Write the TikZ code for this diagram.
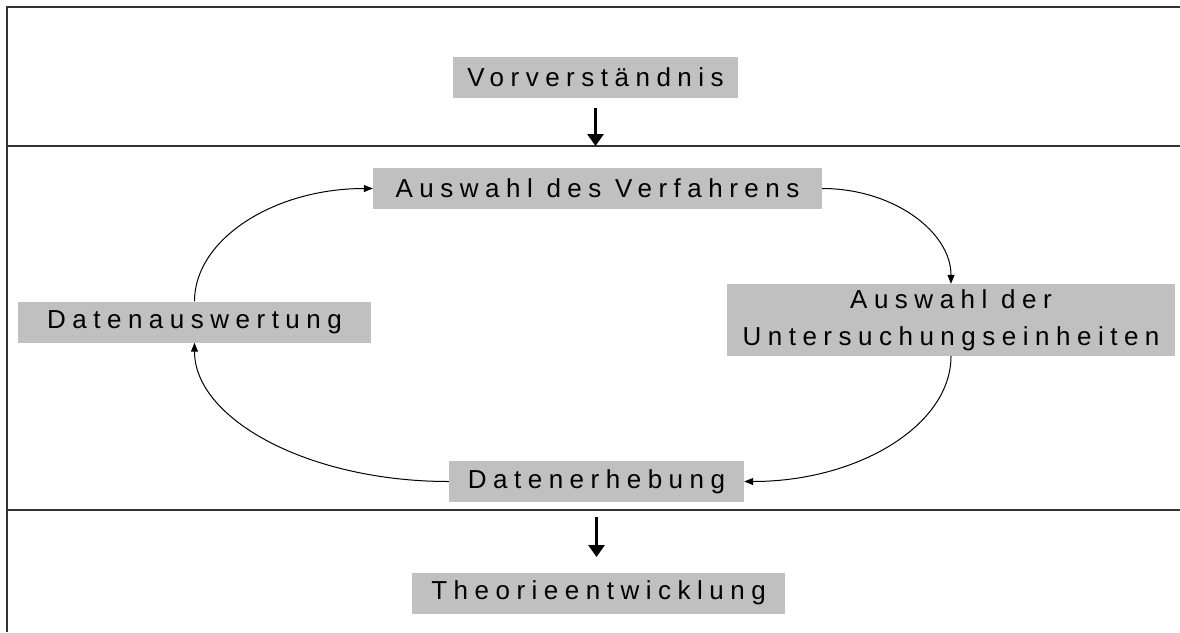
\documentclass[tikz,border=0pt]{standalone}
\usepackage{fontspec}
\setmainfont{Liberation Sans}
\newfontfamily\spacedfont{Liberation Sans}[LetterSpace=25]
\usetikzlibrary{arrows.meta}
\definecolor{boxgray}{RGB}{192,192,192}

\begin{document}
\begin{tikzpicture}[
    x=1pt, y=-1pt,
    box/.style={fill=boxgray, minimum height=41pt, inner xsep=4pt, inner ysep=2pt, font=\fontsize{26pt}{37pt}\spacedfont, align=center},
    arr/.style={-{Triangle[length=9pt,width=7pt]}, line width=1pt},
    bigarr/.style={-{Triangle[length=12pt,width=16pt]}, line width=3pt},
    rule/.style={line width=1.5pt, black!80}
]
\useasboundingbox (0,0) rectangle (1180,632);

% table frame
\draw[rule] (1180,7) -- (7,7) -- (7,632);
\draw[rule] (7,146) -- (1180,146);
\draw[rule] (7,510) -- (1180,510);

\node[box, minimum width=285pt] (vor) at (595.5,77) {Vorverständnis};
\node[box, minimum width=449pt] (verf) at (597.5,188.5) {Auswahl des Verfahrens};
\node[box, minimum width=448pt, minimum height=72pt] (unt) at (951,320) {Auswahl der\\Untersuchungseinheiten};
\node[box, minimum width=353pt] (ausw) at (194.5,322) {Datenauswertung};
\node[box, minimum width=295pt] (erh) at (596.5,481.5) {Datenerhebung};
\node[box, minimum width=373pt] (theo) at (598.5,593) {Theorieentwicklung};

% cycle
\draw[arr] (ausw.north) .. controls +(0,-62) and +(-99,0) .. (verf.west);
\draw[arr] (verf.east) .. controls +(71,0) and +(0,-52) .. (unt.north);
\draw[arr] (unt.south) .. controls +(0,69) and +(114,0) .. (erh.east);
\draw[arr] (erh.west) .. controls +(-141,0) and +(0,76) .. (ausw.south);

% in and out
\coordinate (vorend) at (595.5,146);
\coordinate (erhstart) at (596.5,517);
\coordinate (theoend) at (596.5,557);
\draw[bigarr] ([yshift=-10pt]vor.south) -- (vorend);
\draw[bigarr] (erhstart) -- (theoend);
\end{tikzpicture}
\end{document}
